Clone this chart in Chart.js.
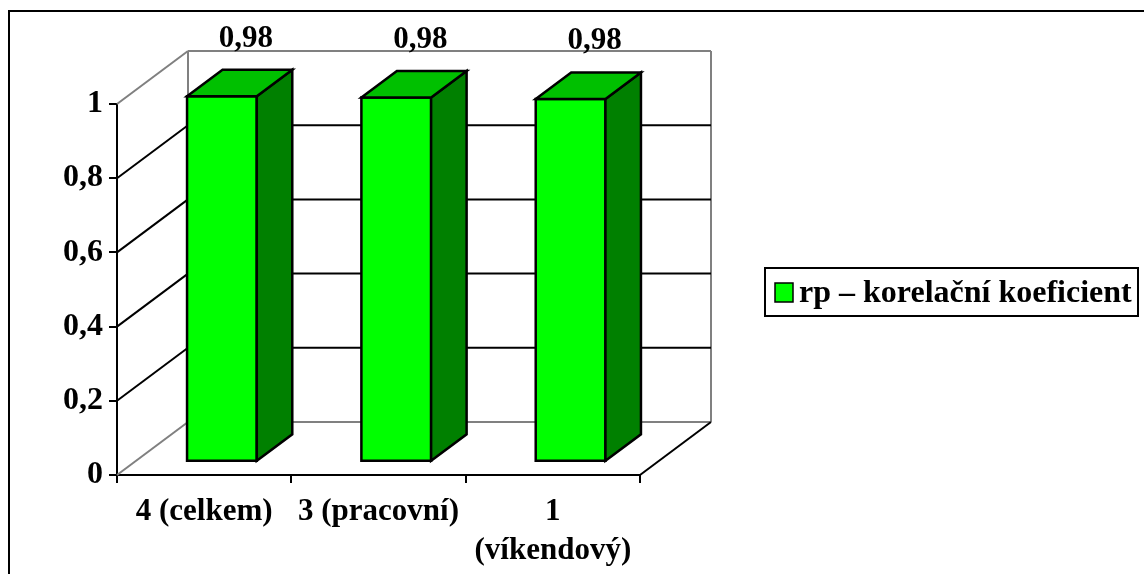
<!DOCTYPE html>
<html>
<head>
<meta charset="utf-8">
<script src="https://cdn.jsdelivr.net/npm/chart.js@4.4.0/dist/chart.umd.min.js"></script>
<style>
  html, body { margin: 0; padding: 0; background: #fff; }
  #wrap { width: 1144px; height: 574px; }
</style>
</head>
<body>
<div id="wrap"><canvas id="corrCanvas" width="1144" height="574"></canvas></div>
<script>
const categories = ["4 (celkem)", "3 (pracovní)", ["1", "(víkendový)"]];
const corrValues = [0.985, 0.982, 0.978];
const yTickLabels = ["0", "0,2", "0,4", "0,6", "0,8", "1"];
const seriesName = "rp – korelační koeficient";

const FONT = "'Liberation Serif', 'Times New Roman', serif";
// depth of the 3D box (back wall offset from the front axis)
const depthX = 71;
const depthY = -53;

const line = (ctx, x1, y1, x2, y2, color) => {
  ctx.strokeStyle = color;
  ctx.beginPath();
  ctx.moveTo(x1, y1);
  ctx.lineTo(x2, y2);
  ctx.stroke();
};

const poly = (ctx, pts, fill) => {
  ctx.beginPath();
  ctx.moveTo(pts[0][0], pts[0][1]);
  for (let i = 1; i < pts.length; i++) ctx.lineTo(pts[i][0], pts[i][1]);
  ctx.closePath();
  ctx.fillStyle = fill;
  ctx.fill();
  ctx.stroke();
};

const threeD = {
  id: "threeD",
  beforeDraw(chart) {
    const { ctx } = chart;
    ctx.save();
    ctx.fillStyle = "#fff";
    ctx.fillRect(0, 0, chart.width, chart.height);
    ctx.strokeStyle = "#000";
    ctx.lineWidth = 2;
    ctx.strokeRect(9, 11, chart.width + 20, chart.height + 20);
    ctx.restore();
  },
  beforeDatasetsDraw(chart) {
    const { ctx, chartArea: a, scales: { y } } = chart;
    const bx = a.left + depthX;
    const rx = a.right + depthX;
    ctx.save();
    ctx.lineWidth = 2;
    // walls outline (grey)
    line(ctx, bx, a.top + depthY, bx, a.bottom + depthY, "#808080");
    line(ctx, rx, a.top + depthY, rx, a.bottom + depthY, "#808080");
    y.ticks.forEach((t) => {
      const py = y.getPixelForValue(t.value);
      const edge = t.value === 0 || t.value === 1;
      const c = edge ? "#808080" : "#000";
      line(ctx, a.left, py, bx, py + depthY, c);
      line(ctx, bx, py + depthY, rx, py + depthY, c);
      if (t.value === 0) {
        line(ctx, a.right, py, rx, py + depthY, "#000");
      }
    });
    ctx.restore();
  },
  afterDatasetsDraw(chart) {
    const { ctx } = chart;
    const meta = chart.getDatasetMeta(0);
    ctx.save();
    ctx.lineWidth = 2.5;
    ctx.strokeStyle = "#000";
    ctx.lineJoin = "miter";
    meta.data.forEach((bar, i) => {
      const w = bar.width;
      const fx = bar.x + depthX * 0.25 - w / 2;
      const fy = bar.y + depthY * 0.25;
      const fb = bar.base + depthY * 0.25;
      const dx = depthX * 0.5;
      const dy = depthY * 0.5;
      poly(ctx, [[fx, fy], [fx + w, fy], [fx + w, fb], [fx, fb]], "#00ff00");
      poly(ctx, [[fx + w, fy], [fx + w + dx, fy + dy], [fx + w + dx, fb + dy], [fx + w, fb]], "#008000");
      poly(ctx, [[fx, fy], [fx + dx, fy + dy], [fx + w + dx, fy + dy], [fx + w, fy]], "#00c000");
      // value label
      ctx.fillStyle = "#000";
      ctx.font = "bold 31px " + FONT;
      ctx.textAlign = "center";
      ctx.textBaseline = "alphabetic";
      const txt = corrValues[i].toFixed(2).replace(".", ",");
      ctx.fillText(txt, fx + w / 2 + 24, fy + dy - 23);
    });
    ctx.restore();
  },
  afterDraw(chart) {
    const { ctx } = chart;
    ctx.save();
    ctx.lineWidth = 2;
    ctx.strokeStyle = "#000";
    ctx.strokeRect(765, 268, 373, 48);
    ctx.fillStyle = "#00ff00";
    ctx.fillRect(775, 283, 18, 19);
    ctx.lineWidth = 1.5;
    ctx.strokeRect(775, 283, 18, 19);
    ctx.fillStyle = "#000";
    ctx.font = "bold 32px " + FONT;
    ctx.textAlign = "left";
    ctx.textBaseline = "alphabetic";
    ctx.fillText(chart.data.datasets[0].label, 799, 302);
    ctx.restore();
  },
};

const corrChart = new Chart(document.getElementById("corrCanvas"), {
  type: "bar",
  data: {
    labels: categories,
    datasets: [
      {
        label: seriesName,
        data: corrValues,
        backgroundColor: "rgba(0,0,0,0)",
        borderWidth: 0,
        barPercentage: 0.4,
        categoryPercentage: 1.0,
      },
    ],
  },
  options: {
    responsive: false,
    animation: false,
    devicePixelRatio: 1,
    layout: { padding: { left: 0, top: 104, right: 504, bottom: 0 } },
    plugins: {
      legend: { display: false },
      tooltip: { enabled: false },
    },
    scales: {
      x: {
        offset: true,
        grid: {
          offset: true,
          drawOnChartArea: false,
          color: "#000",
          lineWidth: 2,
          tickLength: 8,
        },
        border: { color: "#000", width: 2 },
        ticks: {
          color: "#000",
          padding: 10,
          maxRotation: 0,
          autoSkip: false,
          font: { family: FONT, size: 31, weight: "bold", lineHeight: 1.25 },
        },
        afterFit: (scale) => {
          scale.height = 99;
        },
      },
      y: {
        min: 0,
        max: 1,
        ticks: {
          stepSize: 0.2,
          color: "#000",
          padding: 6,
          font: { family: FONT, size: 32, weight: "bold" },
          callback: (v, i) => yTickLabels[i],
        },
        grid: {
          drawOnChartArea: false,
          color: "#000",
          lineWidth: 2,
          tickLength: 8,
        },
        border: { color: "#000", width: 2 },
        afterFit: (scale) => {
          scale.width = 117;
        },
      },
    },
  },
  plugins: [threeD],
});
</script>
</body>
</html>
